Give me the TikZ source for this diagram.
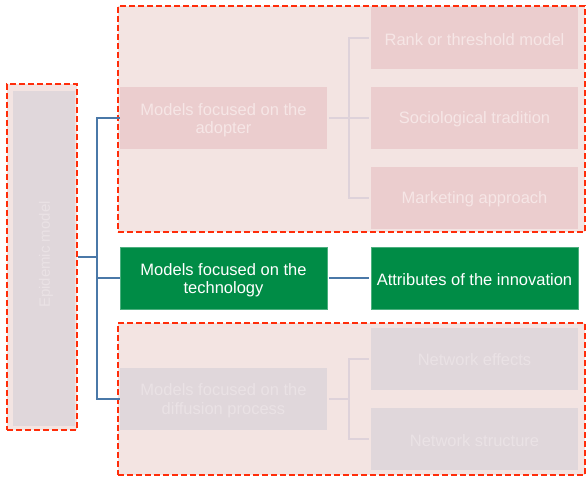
\documentclass[tikz,border=0pt]{standalone}
\usepackage{fontspec}
\setmainfont{Liberation Sans}
\definecolor{grpfill}{RGB}{243,228,226}
\definecolor{pinkbox}{RGB}{235,205,206}
\definecolor{pinktxt}{RGB}{246,230,230}
\definecolor{graybox}{RGB}{224,215,219}
\definecolor{graytxt}{RGB}{234,226,229}
\definecolor{reddash}{RGB}{255,45,10}
\definecolor{bluel}{RGB}{74,120,168}
\definecolor{grayl}{RGB}{222,210,218}
\definecolor{greenbox}{RGB}{0,140,70}
\tikzset{
  grp/.style={draw=reddash, fill=grpfill, line width=2.4pt, dash pattern=on 6pt off 3pt},
  box/.style={minimum width=207pt, minimum height=62pt, inner sep=0pt},
  txt/.style={align=center, inner sep=0pt, font=\fontsize{16.5}{18.5}\selectfont},
  pinkb/.style={box, fill=pinkbox},
  grayb/.style={box, fill=graybox},
  greenb/.style={box, fill=greenbox, draw=greenbox!70!white, line width=0.6pt},
  bl/.style={draw=bluel, line width=2pt},
  gl/.style={draw=grayl, line width=2pt},
}
\begin{document}
\begin{tikzpicture}[x=1pt,y=-1pt]
\useasboundingbox (0,0) rectangle (586,478);
% groups
\node[grp, minimum width=467pt, minimum height=226pt, inner sep=0pt] (topgrp) at (351.5,119) {};
\node[grp, minimum width=467pt, minimum height=152pt, inner sep=0pt] (botgrp) at (351.5,399) {};
\node[grp, minimum width=70pt, minimum height=346pt, inner sep=0pt] (epiouter) at (42,257) {};
\node[fill=graybox, minimum width=62pt, minimum height=335pt, inner sep=0pt] (epi) at (44,258.5) {};
\node[rotate=90, text=graytxt, font=\fontsize{15}{17}\selectfont] (epitxt) at ([xshift=2pt,yshift=4pt]epi.center) {Epidemic model};
% boxes
\node[pinkb] (adopter) at (223.5,118) {};
\node[pinkb] (rank) at (474.5,38) {};
\node[pinkb] (socio) at (474.5,118) {};
\node[pinkb] (market) at (474.5,198) {};
\node[greenb] (tech) at (223.5,278) {};
\node[greenb] (attr) at (474.5,278) {};
\node[grayb] (diff) at (223.5,398.5) {};
\node[grayb] (neteff) at (474.5,358.5) {};
\node[grayb] (netstr) at (474.5,439) {};
% texts
\node[txt, text=pinktxt] (adoptert) at ([yshift=-2pt]adopter.center) {Models focused on the\\adopter};
\node[txt, text=pinktxt] (rankt) at ([yshift=-1.5pt]rank.center) {Rank or threshold model};
\node[txt, text=pinktxt] (sociot) at ([yshift=-1.5pt]socio.center) {Sociological tradition};
\node[txt, text=pinktxt] (markett) at ([yshift=-1.5pt]market.center) {Marketing approach};
\node[txt, text=white] (techt) at ([yshift=-2pt]tech.center) {Models focused on the\\technology};
\node[txt, text=white] (attrt) at ([yshift=-1.5pt]attr.center) {Attributes of the innovation};
\node[txt, text=graytxt] (difft) at ([yshift=-2pt]diff.center) {Models focused on the\\diffusion process};
\node[txt, text=graytxt] (neteft) at ([yshift=-1.5pt]neteff.center) {Network effects};
\node[txt, text=graytxt] (netstrt) at ([yshift=-1.5pt]netstr.center) {Network structure};
% connectors
\coordinate (trunk) at (97,0);
\coordinate (gtrunk) at (349,0);
\draw[bl] (epiouter.east) -- (epiouter.east -| trunk);
\draw[bl] (adopter.west) -- (adopter.west -| trunk) -- (diff.west -| trunk) -- (diff.west);
\draw[bl] (tech.west) -- (tech.west -| trunk);
\draw[bl] ([xshift=2pt]tech.east) -- ([xshift=-2pt]attr.west);
\draw[gl] ([xshift=2pt]adopter.east) -- ([xshift=-2pt]socio.west);
\draw[gl] ([xshift=-2pt]rank.west) -- (rank.west -| gtrunk) -- (market.west -| gtrunk) -- ([xshift=-2pt]market.west);
\draw[gl] ([xshift=2pt]diff.east) -- (diff.east -| gtrunk);
\draw[gl] ([xshift=-2pt]neteff.west) -- (neteff.west -| gtrunk) -- (netstr.west -| gtrunk) -- ([xshift=-2pt]netstr.west);
\end{tikzpicture}
\end{document}
